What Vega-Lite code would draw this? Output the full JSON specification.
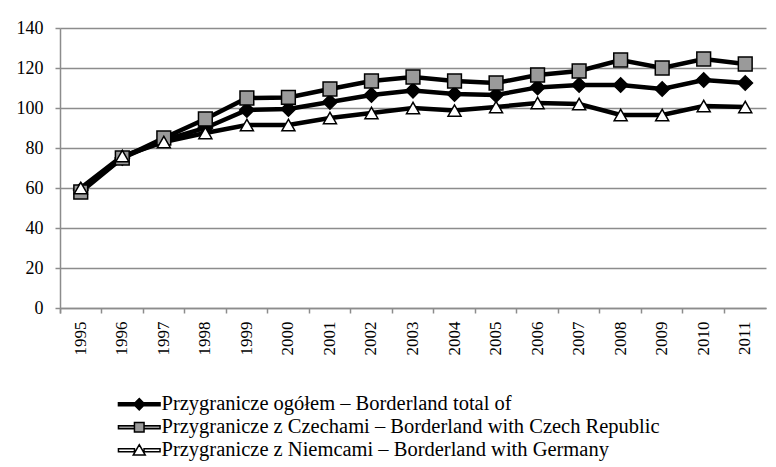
{
  "$schema": "https://vega.github.io/schema/vega-lite/v6.json",
  "width": 706,
  "height": 280,
  "autosize": {"type": "none"},
  "padding": {"left": 60, "top": 28, "right": 10, "bottom": 159},
  "background": "white",
  "data": {"values": [
    {"year": "1995", "series": "Przygranicze ogółem – Borderland total of", "v": 59},
    {"year": "1996", "series": "Przygranicze ogółem – Borderland total of", "v": 75},
    {"year": "1997", "series": "Przygranicze ogółem – Borderland total of", "v": 84},
    {"year": "1998", "series": "Przygranicze ogółem – Borderland total of", "v": 90},
    {"year": "1999", "series": "Przygranicze ogółem – Borderland total of", "v": 99},
    {"year": "2000", "series": "Przygranicze ogółem – Borderland total of", "v": 99.5},
    {"year": "2001", "series": "Przygranicze ogółem – Borderland total of", "v": 103},
    {"year": "2002", "series": "Przygranicze ogółem – Borderland total of", "v": 106.5},
    {"year": "2003", "series": "Przygranicze ogółem – Borderland total of", "v": 108.7},
    {"year": "2004", "series": "Przygranicze ogółem – Borderland total of", "v": 107},
    {"year": "2005", "series": "Przygranicze ogółem – Borderland total of", "v": 106.5},
    {"year": "2006", "series": "Przygranicze ogółem – Borderland total of", "v": 110.3},
    {"year": "2007", "series": "Przygranicze ogółem – Borderland total of", "v": 111.5},
    {"year": "2008", "series": "Przygranicze ogółem – Borderland total of", "v": 111.5},
    {"year": "2009", "series": "Przygranicze ogółem – Borderland total of", "v": 109.5},
    {"year": "2010", "series": "Przygranicze ogółem – Borderland total of", "v": 114},
    {"year": "2011", "series": "Przygranicze ogółem – Borderland total of", "v": 112.5},
    {"year": "1995", "series": "Przygranicze z Czechami – Borderland with Czech Republic", "v": 58},
    {"year": "1996", "series": "Przygranicze z Czechami – Borderland with Czech Republic", "v": 75},
    {"year": "1997", "series": "Przygranicze z Czechami – Borderland with Czech Republic", "v": 85},
    {"year": "1998", "series": "Przygranicze z Czechami – Borderland with Czech Republic", "v": 94.5},
    {"year": "1999", "series": "Przygranicze z Czechami – Borderland with Czech Republic", "v": 105},
    {"year": "2000", "series": "Przygranicze z Czechami – Borderland with Czech Republic", "v": 105.3},
    {"year": "2001", "series": "Przygranicze z Czechami – Borderland with Czech Republic", "v": 109.5},
    {"year": "2002", "series": "Przygranicze z Czechami – Borderland with Czech Republic", "v": 113.5},
    {"year": "2003", "series": "Przygranicze z Czechami – Borderland with Czech Republic", "v": 115.5},
    {"year": "2004", "series": "Przygranicze z Czechami – Borderland with Czech Republic", "v": 113.5},
    {"year": "2005", "series": "Przygranicze z Czechami – Borderland with Czech Republic", "v": 112.5},
    {"year": "2006", "series": "Przygranicze z Czechami – Borderland with Czech Republic", "v": 116.5},
    {"year": "2007", "series": "Przygranicze z Czechami – Borderland with Czech Republic", "v": 118.5},
    {"year": "2008", "series": "Przygranicze z Czechami – Borderland with Czech Republic", "v": 124},
    {"year": "2009", "series": "Przygranicze z Czechami – Borderland with Czech Republic", "v": 120},
    {"year": "2010", "series": "Przygranicze z Czechami – Borderland with Czech Republic", "v": 124.5},
    {"year": "2011", "series": "Przygranicze z Czechami – Borderland with Czech Republic", "v": 122},
    {"year": "1995", "series": "Przygranicze z Niemcami – Borderland with Germany", "v": 60},
    {"year": "1996", "series": "Przygranicze z Niemcami – Borderland with Germany", "v": 76},
    {"year": "1997", "series": "Przygranicze z Niemcami – Borderland with Germany", "v": 83},
    {"year": "1998", "series": "Przygranicze z Niemcami – Borderland with Germany", "v": 87.5},
    {"year": "1999", "series": "Przygranicze z Niemcami – Borderland with Germany", "v": 91.5},
    {"year": "2000", "series": "Przygranicze z Niemcami – Borderland with Germany", "v": 91.5},
    {"year": "2001", "series": "Przygranicze z Niemcami – Borderland with Germany", "v": 95},
    {"year": "2002", "series": "Przygranicze z Niemcami – Borderland with Germany", "v": 97.5},
    {"year": "2003", "series": "Przygranicze z Niemcami – Borderland with Germany", "v": 100},
    {"year": "2004", "series": "Przygranicze z Niemcami – Borderland with Germany", "v": 98.7},
    {"year": "2005", "series": "Przygranicze z Niemcami – Borderland with Germany", "v": 100.5},
    {"year": "2006", "series": "Przygranicze z Niemcami – Borderland with Germany", "v": 102.5},
    {"year": "2007", "series": "Przygranicze z Niemcami – Borderland with Germany", "v": 102},
    {"year": "2008", "series": "Przygranicze z Niemcami – Borderland with Germany", "v": 96.5},
    {"year": "2009", "series": "Przygranicze z Niemcami – Borderland with Germany", "v": 96.5},
    {"year": "2010", "series": "Przygranicze z Niemcami – Borderland with Germany", "v": 101},
    {"year": "2011", "series": "Przygranicze z Niemcami – Borderland with Germany", "v": 100.5}
  ]},
  "encoding": {
    "x": {
      "field": "year", "type": "ordinal",
      "scale": {"type": "band", "paddingInner": 0, "paddingOuter": 0},
      "axis": {
        "title": null, "labelAngle": -90, "bandPosition": 0, "tickExtra": true,
        "labelPadding": 8, "grid": false,
        "labelFont": "Liberation Serif", "labelFontSize": 17, "labelColor": "black",
        "domainColor": "#8c8c8c", "domainWidth": 1.5, "tickColor": "#8c8c8c", "tickWidth": 1.5, "tickSize": 5
      }
    },
    "y": {
      "field": "v", "type": "quantitative",
      "scale": {"domain": [0, 140], "nice": false},
      "axis": {
        "title": null, "values": [0, 20, 40, 60, 80, 100, 120, 140],
        "grid": true, "gridColor": "#8c8c8c", "gridWidth": 1.5,
        "labelFont": "Liberation Serif", "labelFontSize": 18, "labelColor": "black",
        "domainColor": "#8c8c8c", "domainWidth": 1.5, "tickColor": "#8c8c8c", "tickWidth": 1.5, "tickSize": 5,
        "labelPadding": 12
      }
    }
  },
  "layer": [
    {
      "mark": {"type": "line", "color": "black", "strokeWidth": 4.5},
      "encoding": {"detail": {"field": "series"}}
    },
    {
      "mark": {"type": "point", "filled": true, "stroke": "black", "strokeWidth": 1.5, "opacity": 1},
      "encoding": {
        "shape": {
          "field": "series", "type": "nominal", "legend": null,
          "scale": {"domain": ["Przygranicze ogółem – Borderland total of", "Przygranicze z Czechami – Borderland with Czech Republic", "Przygranicze z Niemcami – Borderland with Germany"], "range": ["diamond", "square", "triangle-up"]}
        },
        "fill": {
          "field": "series", "type": "nominal", "legend": null,
          "scale": {"domain": ["Przygranicze ogółem – Borderland total of", "Przygranicze z Czechami – Borderland with Czech Republic", "Przygranicze z Niemcami – Borderland with Germany"], "range": ["#000000", "#9a9a9a", "#ffffff"]}
        },
        "size": {
          "field": "series", "type": "nominal", "legend": null,
          "scale": {"domain": ["Przygranicze ogółem – Borderland total of", "Przygranicze z Czechami – Borderland with Czech Republic", "Przygranicze z Niemcami – Borderland with Germany"], "range": [210, 169, 256]}
        }
      }
    },
    {
      "transform": [{"filter": {"field": "v", "lt": 0}}],
      "mark": {"type": "point", "filled": true, "strokeWidth": 1.5, "opacity": 1},
      "encoding": {
        "fill": {
          "field": "series", "type": "nominal",
          "scale": {"domain": ["Przygranicze ogółem – Borderland total of", "Przygranicze z Czechami – Borderland with Czech Republic", "Przygranicze z Niemcami – Borderland with Germany"], "range": ["#000000", "#9a9a9a", "#ffffff"]},
          "legend": {
            "title": null, "orient": "none", "legendX": 69, "legendY": 366, "direction": "vertical",
            "symbolSize": 256, "symbolStrokeWidth": 1.5, "symbolStrokeColor": "black", "symbolOpacity": 1,
            "labelOffset": 12, "rowPadding": 2, "labelLimit": 600,
            "labelFont": "Liberation Serif", "labelFontSize": 20.5, "labelColor": "black"
          }
        },
        "stroke": {
          "field": "series", "type": "nominal",
          "scale": {"domain": ["Przygranicze ogółem – Borderland total of", "Przygranicze z Czechami – Borderland with Czech Republic", "Przygranicze z Niemcami – Borderland with Germany"], "range": ["#000000", "#000000", "#000000"]},
          "legend": {
            "title": null, "orient": "none", "legendX": 69, "legendY": 366, "direction": "vertical",
            "symbolSize": 256, "symbolStrokeWidth": 1.5, "symbolStrokeColor": "black", "symbolOpacity": 1,
            "labelOffset": 12, "rowPadding": 2, "labelLimit": 600,
            "labelFont": "Liberation Serif", "labelFontSize": 20.5, "labelColor": "black"
          }
        },
        "shape": {
          "field": "series", "type": "nominal",
          "scale": {"domain": ["Przygranicze ogółem – Borderland total of", "Przygranicze z Czechami – Borderland with Czech Republic", "Przygranicze z Niemcami – Borderland with Germany"],
            "range": [
              "M-2.6,-0.2H-0.6V0.2H-2.6Z M0.6,-0.2H2.6V0.2H0.6Z M0,-0.7L0.7,0L0,0.7L-0.7,0Z",
              "M-2.6,-0.2H-0.6V0.2H-2.6Z M0.6,-0.2H2.6V0.2H0.6Z M-0.6,-0.6H0.6V0.6H-0.6Z",
              "M-2.6,-0.2H-0.6V0.2H-2.6Z M0.6,-0.2H2.6V0.2H0.6Z M0,-0.7L0.75,0.6H-0.75Z"
            ]},
          "legend": {
            "title": null, "orient": "none", "legendX": 69, "legendY": 366, "direction": "vertical",
            "symbolSize": 256, "symbolStrokeWidth": 1.5, "symbolStrokeColor": "black", "symbolOpacity": 1,
            "labelOffset": 12, "rowPadding": 2, "labelLimit": 600,
            "labelFont": "Liberation Serif", "labelFontSize": 20.5, "labelColor": "black"
          }
        }
      }
    }
  ],
  "resolve": {"scale": {"shape": "independent", "fill": "independent", "stroke": "independent"}},
  "config": {
    "view": {"stroke": null},
    "legend": {"padding": 0}
  }
}
